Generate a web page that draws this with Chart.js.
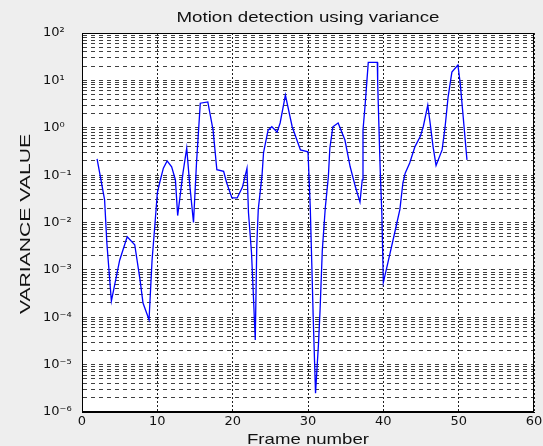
<!DOCTYPE html>
<html><head><meta charset="utf-8">
<script src="https://cdn.jsdelivr.net/npm/chart.js@4/dist/chart.umd.min.js"></script>
<style>html,body{margin:0;padding:0;background:#eeeeee;}canvas{display:block;}</style>
</head><body>
<canvas id="c" width="543" height="446"></canvas>
<script>
// ---- data (frame number, variance value) ----
const frames = [2.0,2.4,3.0,3.3,3.9,5.0,6.0,7.0,7.7,8.1,8.9,9.3,9.7,10.0,10.4,10.8,11.3,11.9,12.4,12.7,
  13.4,13.9,14.3,14.8,15.2,15.7,16.7,17.4,17.9,18.8,19.2,19.9,20.6,21.3,21.9,22.1,22.5,22.7,23.0,23.2,
  23.4,23.9,24.1,24.7,25.2,25.9,26.3,27.0,27.9,29.0,30.0,30.3,30.5,30.7,31.0,31.4,31.6,31.9,32.3,32.7,
  32.9,33.3,34.0,34.9,35.6,36.3,36.9,37.2,37.3,37.6,38.0,39.2,39.25,39.4,39.6,39.8,40.0,40.6,41.5,42.2,
  42.6,42.9,43.5,44.2,44.9,45.3,45.9,46.2,46.6,47.0,47.8,48.2,48.6,49.1,49.9,50.2,50.6,51.1];
const variance = [0.22,0.1,0.03,0.0037,0.00022,0.0016,0.005,0.0034,0.00062,0.0002,0.000089,0.0016,0.01,0.042,0.079,0.14,0.2,0.15,0.079,0.014,
  0.11,0.37,0.063,0.01,0.18,3.3,3.5,0.89,0.13,0.12,0.069,0.033,0.033,0.056,0.14,0.016,0.0023,0.00044,0.000033,0.0032,
  0.019,0.1,0.3,0.89,1.05,0.81,1.26,4.9,1.05,0.34,0.31,0.021,0.0014,0.000089,0.0000025,0.000029,0.00014,0.0026,0.021,0.091,
  0.37,1.05,1.26,0.55,0.15,0.056,0.027,0.079,0.89,3.3,24,24,8.9,1.26,0.11,0.016,0.00054,0.0014,0.006,0.019,
  0.069,0.11,0.18,0.4,0.65,1.05,3.0,1.3,0.4,0.16,0.34,1.05,4.5,15,21,8.9,1.7,0.21];
const xTickValues = [0,10,20,30,40,50,60];
const decadeExponents = [-6,-5,-4,-3,-2,-1,0,1,2];
const minorMultipliers = [1,2,3,4,5,6,7,8,9];
const chartTitle = 'Motion detection using variance';
const xAxisTitle = 'Frame number';
const yAxisTitle = 'VARIANCE VALUE';

const SUP = {'-':'\u207B','0':'\u2070','1':'\u00B9','2':'\u00B2','3':'\u00B3','4':'\u2074','5':'\u2075','6':'\u2076','7':'\u2077','8':'\u2078','9':'\u2079'};
function powLabel(e){ return '10' + String(e).split('').map(c=>SUP[c]).join(''); }

function logTicks(){
  const t = [];
  for (let i = 0; i < decadeExponents.length - 1; i++) {
    const e = decadeExponents[i];
    for (const m of minorMultipliers) t.push({value: Number((m * Math.pow(10, e)).toPrecision(10))});
  }
  t.push({value: Math.pow(10, decadeExponents[decadeExponents.length - 1])});
  return t;
}

function drawStretched(ctx, text, x, y, font, targetW, rotate){
  ctx.save();
  ctx.font = font;
  const w = ctx.measureText(text).width;
  ctx.translate(x, y);
  if (rotate) ctx.rotate(-Math.PI / 2);
  ctx.scale(targetW / w, 1);
  ctx.textAlign = 'center';
  ctx.textBaseline = 'alphabetic';
  ctx.fillStyle = '#111';
  ctx.fillText(text, 0, 0);
  ctx.restore();
}

const decor = {
  id: 'decor',
  beforeDraw(chart){
    const {ctx, chartArea: a} = chart;
    ctx.save();
    ctx.fillStyle = '#eeeeee';
    ctx.fillRect(0, 0, chart.width, chart.height);
    ctx.fillStyle = '#ffffff';
    ctx.fillRect(a.left, a.top, a.right - a.left, a.bottom - a.top);
    ctx.restore();
  },
  afterDraw(chart){
    const {ctx, chartArea: a} = chart;
    ctx.save();
    ctx.strokeStyle = '#000';
    ctx.lineWidth = 1;
    ctx.strokeRect(a.left + 0.5, a.top + 0.5, a.right - a.left - 1, a.bottom - a.top - 1);
    ctx.restore();
    const cx = (a.left + a.right) / 2;
    drawStretched(ctx, chartTitle, cx, 22, '14px "Liberation Sans"', 263, false);
    drawStretched(ctx, xAxisTitle, cx, 444, '15px "Liberation Sans"', 122, false);
    drawStretched(ctx, yAxisTitle, 30, 224, '15px "Liberation Sans"', 180, true);
  }
};

new Chart(document.getElementById('c'), {
  type: 'line',
  data: { datasets: [{
    data: frames.map((f, i) => ({x: f, y: variance[i]})),
    borderColor: '#0000ff', borderWidth: 1.3, pointRadius: 0, tension: 0, fill: false
  }]},
  options: {
    responsive: false, animation: false, devicePixelRatio: 1,
    layout: { padding: {left: 43, top: 33, right: 9, bottom: 0} },
    plugins: { legend: {display: false}, title: {display: false}, tooltip: {enabled: false} },
    scales: {
      x: {
        type: 'linear', min: 0, max: 60,
        afterBuildTicks: s => { s.ticks = xTickValues.map(v => ({value: v})); },
        ticks: { autoSkip: false, maxRotation: 0, padding: 2, color: '#111', font: {family: 'DejaVu Sans', size: 13} },
        grid: { color: '#222', lineWidth: 1, drawTicks: false },
        border: { display: true, color: '#000', dash: [2, 2] },
        afterFit: s => { s.height = 34; s.paddingLeft = 0; s.paddingRight = 0; }
      },
      y: {
        type: 'logarithmic', min: 1e-6, max: 100,
        afterBuildTicks: s => { s.ticks = logTicks(); },
        ticks: {
          autoSkip: false, crossAlign: 'far', padding: 0, color: '#111',
          font: {family: 'DejaVu Sans', size: 13},
          callback: v => {
            const e = Math.log10(v);
            return Math.abs(e - Math.round(e)) < 1e-9 ? powLabel(Math.round(e)) : '';
          }
        },
        grid: { color: 'rgba(0,0,0,0.75)', lineWidth: 1, drawTicks: false },
        border: { display: true, color: '#000', dash: [4, 4] },
        afterFit: s => { s.width = 39; s.paddingTop = 0; s.paddingBottom = 0; }
      }
    }
  },
  plugins: [decor]
});
</script>
</body></html>
